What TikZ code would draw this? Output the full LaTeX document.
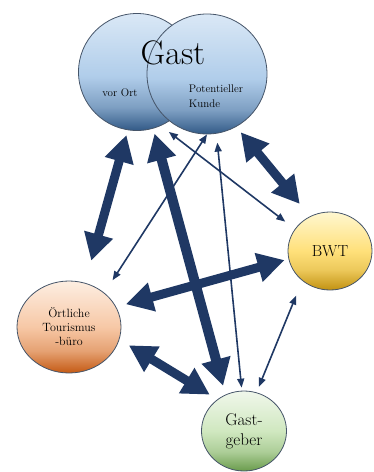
\documentclass[tikz,border=0pt]{standalone}
\usepackage{tikz}
\usetikzlibrary{arrows.meta,shapes.geometric}
\definecolor{arrowblue}{RGB}{31,56,100}
\definecolor{rimgray}{RGB}{70,85,105}
\definecolor{gasttop}{RGB}{218,232,246}
\definecolor{gastmid}{RGB}{176,205,234}
\definecolor{gastbot}{RGB}{50,90,135}
\definecolor{bwttop}{RGB}{255,247,208}
\definecolor{bwtmid}{RGB}{255,224,122}
\definecolor{bwtbot}{RGB}{194,146,18}
\definecolor{buerotop}{RGB}{253,238,226}
\definecolor{bueromid}{RGB}{247,200,166}
\definecolor{buerobot}{RGB}{196,90,20}
\definecolor{gebertop}{RGB}{240,247,235}
\definecolor{gebermid}{RGB}{208,232,192}
\definecolor{geberbot}{RGB}{106,156,76}
\pgfdeclareverticalshading{gastshade}{100bp}{color(0bp)=(gastbot); color(25bp)=(gastbot);
  color(35bp)=(gastmid!60!gastbot); color(48bp)=(gastmid); color(75bp)=(gasttop); color(100bp)=(gasttop)}
\pgfdeclareverticalshading{bwtshade}{100bp}{color(0bp)=(bwtbot); color(25bp)=(bwtbot);
  color(38bp)=(bwtmid!70!bwtbot); color(50bp)=(bwtmid); color(75bp)=(bwttop); color(100bp)=(bwttop)}
\pgfdeclareverticalshading{bueroshade}{100bp}{color(0bp)=(buerobot); color(25bp)=(buerobot);
  color(37bp)=(bueromid!65!buerobot); color(50bp)=(bueromid); color(75bp)=(buerotop); color(100bp)=(buerotop)}
\pgfdeclareverticalshading{gebershade}{100bp}{color(0bp)=(geberbot); color(25bp)=(geberbot);
  color(37bp)=(gebermid!65!geberbot); color(50bp)=(gebermid); color(75bp)=(gebertop); color(100bp)=(gebertop)}

\begin{document}
\begin{tikzpicture}[x=1pt,y=-1pt,
    bubble/.style={draw=rimgray,line width=0.8pt,inner sep=0pt},
    bigarrow/.style={draw=arrowblue,line width=9pt,
      arrows={Triangle[width=28pt,length=27pt]-Triangle[width=28pt,length=27pt]}},
    thinarrow/.style={draw=arrowblue,line width=1.6pt,
      arrows={Triangle[width=7pt,length=9pt]-Triangle[width=7pt,length=9pt]}}]
  \useasboundingbox (0,0) rectangle (374,472);

  % Gast circles
  \node[bubble,circle,minimum size=117pt,shading=gastshade] (gastort) at (137,72) {};
  \node[bubble,circle,minimum size=120pt,shading=gastshade] (gastkunde) at (207,74) {};
  \node[font=\fontsize{34}{40}\selectfont] (gast) at (173,53) {Gast};
  \node[font=\fontsize{11}{15}\selectfont] (vorort) at (120,93) {vor Ort};
  \node[font=\fontsize{11}{15}\selectfont,align=left] (kunde) at (216,96) {Potentieller\\Kunde};

  % Partner circles
  \node[bubble,ellipse,minimum width=84pt,minimum height=78pt,shading=bwtshade,
    font=\fontsize{16}{19}\selectfont] (bwt) at (330,251) {BWT};
  \node[bubble,ellipse,minimum width=104pt,minimum height=92pt,shading=bueroshade,
    font=\fontsize{12}{14}\selectfont,align=center] (buero) at (69,327) {Örtliche\\Tourismus\\-büro};
  \node[bubble,ellipse,minimum width=85pt,minimum height=80pt,shading=gebershade,
    font=\fontsize{17}{20}\selectfont,align=center] (gastgeber) at (244,431) {Gast-\\geber};

  % Thick arrows
  \draw[bigarrow,shorten <=5pt,shorten >=23pt] (gastort.-99) -- (buero.70);
  \draw[bigarrow,line width=10pt,shorten <=5pt,shorten >=9pt] (gastort.-74) -- (gastgeber.117);
  \draw[bigarrow,shorten <=7pt,shorten >=16pt] (gastkunde.-61) -- (bwt.120);
  \draw[bigarrow,shorten <=10pt,shorten >=4pt] (buero.23) -- (bwt.191);
  \draw[bigarrow,shorten <=11pt,shorten >=9pt] (buero.-14) -- (gastgeber.130);

  % Thin arrows
  \draw[thinarrow,shorten <=10pt,shorten >=12pt] (gastort.-66) -- (bwt.148);
  \draw[thinarrow,shorten >=15pt] (gastkunde.-90) -- (buero.44);
  \draw[thinarrow,shorten <=9pt,shorten >=3pt] (gastkunde.-81) -- (gastgeber.93);
  \draw[thinarrow,shorten <=16pt,shorten >=6pt] (bwt.-133) -- (gastgeber.72);
\end{tikzpicture}
\end{document}
